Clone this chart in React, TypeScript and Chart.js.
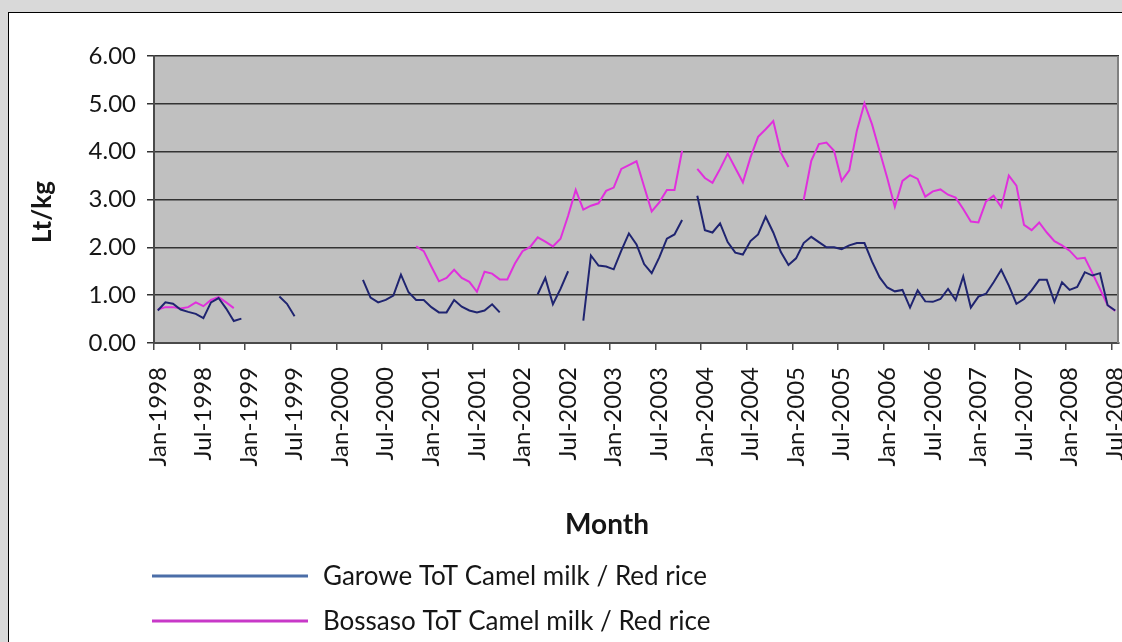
import React, { useEffect, useRef } from 'react';
import { Chart, registerables } from 'chart.js';

Chart.register(...registerables);

// ---- Data ----
const MONTH_NAMES = ['Jan', 'Feb', 'Mar', 'Apr', 'May', 'Jun', 'Jul', 'Aug', 'Sep', 'Oct', 'Nov', 'Dec'];
const START_YEAR = 1998;
const MONTH_COUNT = 127; // Jan-1998 .. Jul-2008
const categories: string[] = [];
for (let i = 0; i < MONTH_COUNT; i++) {
  categories.push(`${MONTH_NAMES[i % 12]}-${START_YEAR + Math.floor(i / 12)}`);
}

const seriesNames = ['Garowe ToT Camel milk / Red rice', 'Bossaso ToT Camel milk / Red rice'];

const garowe: (number | null)[] = [
  0.68, 0.85, 0.82, 0.70, 0.65, 0.61, 0.52, 0.85, 0.94, 0.72, 0.46, 0.51, // 1998
  null, null, null, null, 0.97, 0.82, 0.56, null, null, null, null, null, // 1999
  null, null, null, 1.32, 0.95, 0.85, 0.90, 0.99, 1.43, 1.06, 0.90, 0.90, // 2000
  0.75, 0.64, 0.64, 0.90, 0.76, 0.68, 0.64, 0.68, 0.81, 0.64, null, null, // 2001
  null, null, 1.02, 1.36, 0.81, 1.13, 1.50, null, 0.47, 1.83, 1.62, 1.60, // 2002
  1.54, 1.93, 2.29, 2.06, 1.65, 1.46, 1.79, 2.18, 2.27, 2.57, null, 3.08, // 2003
  2.36, 2.31, 2.50, 2.11, 1.89, 1.85, 2.13, 2.27, 2.64, 2.31, 1.90, 1.63, // 2004
  1.77, 2.09, 2.22, 2.11, 2.00, 2.00, 1.96, 2.04, 2.09, 2.09, 1.70, 1.37, // 2005
  1.16, 1.08, 1.11, 0.74, 1.10, 0.87, 0.86, 0.92, 1.13, 0.90, 1.39, 0.74, // 2006
  0.97, 1.03, 1.27, 1.53, 1.20, 0.82, 0.92, 1.10, 1.32, 1.32, 0.86, 1.27, // 2007
  1.11, 1.17, 1.48, 1.41, 1.46, 0.79, 0.68, // 2008
];

const bossaso: (number | null)[] = [
  0.70, 0.75, 0.75, 0.72, 0.75, 0.85, 0.77, 0.90, 0.96, 0.85, 0.73, null, // 1998
  null, null, null, null, null, null, null, null, null, null, null, null, // 1999
  null, null, null, null, null, null, null, null, null, null, 2.02, 1.92, // 2000
  1.60, 1.29, 1.36, 1.53, 1.36, 1.28, 1.07, 1.49, 1.45, 1.33, 1.33, 1.66, // 2001
  1.92, 2.01, 2.21, 2.12, 2.02, 2.18, 2.66, 3.20, 2.79, 2.87, 2.92, 3.18, // 2002
  3.25, 3.64, 3.72, 3.80, 3.27, 2.75, 2.94, 3.20, 3.20, 4.02, null, 3.64, // 2003
  3.45, 3.35, 3.64, 3.96, 3.66, 3.36, 3.88, 4.31, 4.47, 4.64, 3.98, 3.68, // 2004
  null, 2.99, 3.81, 4.16, 4.19, 4.02, 3.39, 3.61, 4.44, 5.01, 4.57, 4.01, // 2005
  3.45, 2.85, 3.39, 3.51, 3.43, 3.06, 3.17, 3.21, 3.10, 3.04, 2.80, 2.54, // 2006
  2.52, 2.96, 3.08, 2.84, 3.50, 3.29, 2.47, 2.36, 2.52, 2.31, 2.13, 2.04, // 2007
  1.93, 1.76, 1.78, 1.46, 1.13, 0.79, 0.67, // 2008
];

const Y_MIN = 0;
const Y_MAX = 6;
const Y_STEP = 1;
const LABEL_EVERY = 6;

const lineColors = ['#1f2470', '#e030dc'];
const legendColors = ['#4b6ea8', '#c838c8'];

const FONT = 'Lato, "Open Sans", "DejaVu Sans", sans-serif';
const TEXT = '#161616';

const decorPlugin = {
  id: 'decor',
  beforeDraw(chart: any) {
    const { ctx, width, height, chartArea: a } = chart;
    ctx.save();
    ctx.fillStyle = '#d9d9d9';
    ctx.fillRect(0, 0, width, height);
    ctx.fillStyle = '#ffffff';
    ctx.fillRect(8.5, 12.5, width, height);
    ctx.strokeStyle = '#000000';
    ctx.lineWidth = 1;
    ctx.strokeRect(8.5, 12.5, width + 20, height + 20);
    ctx.fillStyle = '#c0c0c0';
    ctx.fillRect(a.left, a.top, a.right - a.left, a.bottom - a.top);
    ctx.restore();
  },
  afterDraw(chart: any) {
    const { ctx, chartArea: a } = chart;
    ctx.save();
    // right border of plot area
    ctx.strokeStyle = '#808080';
    ctx.lineWidth = 2;
    ctx.beginPath();
    ctx.moveTo(a.right - 1, a.top);
    ctx.lineTo(a.right - 1, a.bottom);
    ctx.stroke();

    // axis titles
    ctx.fillStyle = TEXT;
    ctx.textAlign = 'center';
    ctx.textBaseline = 'middle';
    ctx.font = `bold 28px ${FONT}`;
    ctx.fillText('Month', 607, 525);
    ctx.save();
    ctx.translate(43, 212);
    ctx.rotate(-Math.PI / 2);
    ctx.font = `bold 26px ${FONT}`;
    ctx.fillText('Lt/kg', 0, 0);
    ctx.restore();

    // legend
    chart.data.datasets.forEach((ds: any, i: number) => {
      const y = 576 + i * 45;
      ctx.strokeStyle = legendColors[i];
      ctx.lineWidth = 3;
      ctx.beginPath();
      ctx.moveTo(152, y);
      ctx.lineTo(308, y);
      ctx.stroke();
      ctx.fillStyle = TEXT;
      ctx.textAlign = 'left';
      ctx.textBaseline = 'middle';
      ctx.font = `26px ${FONT}`;
      ctx.fillText(ds.label, 323, y + 1);
    });
    ctx.restore();
  },
};

export default function App() {
  const canvasRef = useRef<HTMLCanvasElement | null>(null);

  useEffect(() => {
    const canvas = canvasRef.current;
    if (!canvas) return;
    const chart = new Chart(canvas, {
      type: 'line',
      data: {
        labels: categories,
        datasets: [
          {
            label: seriesNames[0],
            data: garowe,
            borderColor: lineColors[0],
            backgroundColor: lineColors[0],
            borderWidth: 2,
            pointRadius: 0,
            tension: 0,
            spanGaps: false,
          },
          {
            label: seriesNames[1],
            data: bossaso,
            borderColor: lineColors[1],
            backgroundColor: lineColors[1],
            borderWidth: 2,
            pointRadius: 0,
            tension: 0,
            spanGaps: false,
          },
        ],
      },
      options: {
        animation: false,
        responsive: true,
        maintainAspectRatio: false,
        layout: { padding: { left: 0, top: 56, right: 3, bottom: 149 } },
        plugins: {
          legend: { display: false },
          tooltip: { enabled: false },
          title: { display: false },
        },
        scales: {
          x: {
            type: 'category',
            offset: true,
            afterFit(scale: any) {
              scale.height = 150;
              scale.paddingLeft = 0;
              scale.paddingRight = 0;
            },
            grid: {
              display: true,
              offset: true,
              drawOnChartArea: false,
              drawTicks: true,
              tickLength: 7,
              lineWidth: 1.5,
              color: (ctx: any) => (ctx.index % LABEL_EVERY === 0 ? '#4a4a4a' : 'rgba(0,0,0,0)'),
            },
            border: { display: true, color: '#4a4a4a', width: 2 },
            ticks: {
              autoSkip: false,
              minRotation: 90,
              maxRotation: 90,
              padding: 17,
              color: TEXT,
              font: { family: FONT, size: 24 },
              callback: (_v: any, i: number) => (i % LABEL_EVERY === 0 ? categories[i] : ''),
            },
          },
          y: {
            min: Y_MIN,
            max: Y_MAX,
            afterFit(scale: any) {
              scale.width = 154;
            },
            grid: {
              color: '#333333',
              lineWidth: 1.5,
              tickLength: 7,
            },
            border: { display: true, color: '#4a4a4a', width: 2 },
            ticks: {
              stepSize: Y_STEP,
              padding: 11,
              color: TEXT,
              font: { family: FONT, size: 24 },
              callback: (v: any) => Number(v).toFixed(2),
            },
          },
        },
      },
      plugins: [decorPlugin],
    });
    return () => chart.destroy();
  }, []);

  return (
    <div style={{ position: 'fixed', left: 0, top: 0, width: 1122, height: 642 }}>
      <canvas ref={canvasRef} />
    </div>
  );
}
